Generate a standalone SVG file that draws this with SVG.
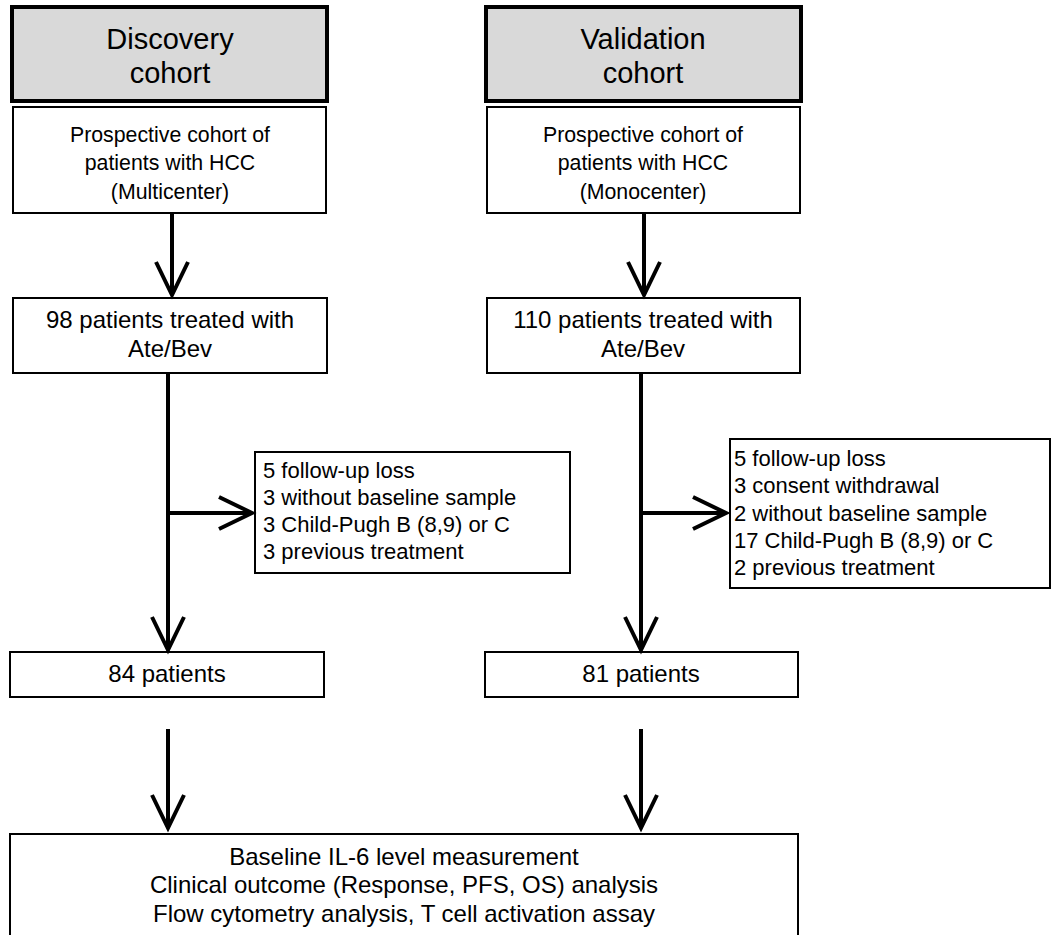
<svg xmlns="http://www.w3.org/2000/svg" width="1051" height="935" viewBox="0 0 1051 935">
<style>
.box{fill:#fff;stroke:#000;stroke-width:2}
.hdr{fill:#d9d9d9;stroke:#000;stroke-width:4}
.t{font-family:"Liberation Sans",Arial,sans-serif;fill:#000}
.c{text-anchor:middle}
.conn line{stroke:#000;stroke-width:4;fill:none}
</style>
<defs>
<marker id="arr" markerUnits="userSpaceOnUse" markerWidth="44" markerHeight="44" viewBox="-40 -22 44 44" refX="0" refY="0" orient="auto" overflow="visible">
<path d="M-33,-16 L0,0 L-33,16" fill="none" stroke="#000" stroke-width="4" stroke-linejoin="miter"/>
</marker>
</defs>
<rect width="1051" height="935" fill="#fff"/>
<g id="disc-header"><rect class="hdr" x="12" y="7" width="315" height="94"/>
<text class="t c" x="170" y="49" font-size="29">Discovery</text>
<text class="t c" x="170" y="83" font-size="29">cohort</text></g>
<g id="val-header"><rect class="hdr" x="486" y="7" width="315" height="94"/>
<text class="t c" x="643" y="49" font-size="29">Validation</text>
<text class="t c" x="643" y="83" font-size="29">cohort</text></g>
<g id="disc-prosp"><rect class="box" x="13" y="107" width="313" height="106"/>
<text class="t c" x="170" y="142" font-size="21.3">Prospective cohort of</text>
<text class="t c" x="170" y="170" font-size="21.3">patients with HCC</text>
<text class="t c" x="170" y="199" font-size="21.3">(Multicenter)</text></g>
<g id="val-prosp"><rect class="box" x="487" y="107" width="313" height="106"/>
<text class="t c" x="643" y="142" font-size="21.3">Prospective cohort of</text>
<text class="t c" x="643" y="170" font-size="21.3">patients with HCC</text>
<text class="t c" x="643" y="199" font-size="21.3">(Monocenter)</text></g>
<g id="disc-treated"><rect class="box" x="13" y="298" width="314" height="75"/>
<text class="t c" x="170" y="328" font-size="24">98 patients treated with</text>
<text class="t c" x="170" y="357" font-size="24">Ate/Bev</text></g>
<g id="val-treated"><rect class="box" x="487" y="298" width="313" height="75"/>
<text class="t c" x="643" y="328" font-size="24">110 patients treated with</text>
<text class="t c" x="643" y="357" font-size="24">Ate/Bev</text></g>
<g id="disc-excl"><rect class="box" x="255" y="452" width="315" height="121"/>
<text class="t" x="263" y="478" font-size="22">5 follow-up loss</text>
<text class="t" x="263" y="505" font-size="22">3 without baseline sample</text>
<text class="t" x="263" y="532" font-size="22">3 Child-Pugh B (8,9) or C</text>
<text class="t" x="263" y="559" font-size="22">3 previous treatment</text></g>
<g id="val-excl"><rect class="box" x="730" y="439" width="320" height="149"/>
<text class="t" x="734" y="466" font-size="22">5 follow-up loss</text>
<text class="t" x="734" y="493" font-size="22">3 consent withdrawal</text>
<text class="t" x="734" y="521" font-size="22">2 without baseline sample</text>
<text class="t" x="734" y="548" font-size="22">17 Child-Pugh B (8,9) or C</text>
<text class="t" x="734" y="575" font-size="22">2 previous treatment</text></g>
<g id="disc-final"><rect class="box" x="10" y="652" width="314" height="45"/>
<text class="t c" x="167" y="682" font-size="24">84 patients</text></g>
<g id="val-final"><rect class="box" x="485" y="652" width="313" height="45"/>
<text class="t c" x="641" y="682" font-size="24">81 patients</text></g>
<g id="analysis"><rect class="box" x="10" y="834" width="788" height="110"/>
<text class="t c" x="404" y="865" font-size="24">Baseline IL-6 level measurement</text>
<text class="t c" x="404" y="893" font-size="24">Clinical outcome (Response, PFS, OS) analysis</text>
<text class="t c" x="404" y="922" font-size="24">Flow cytometry analysis, T cell activation assay</text></g>
<g id="connectors" class="conn">
<line x1="172" y1="213" x2="172" y2="295" marker-end="url(#arr)"/>
<line x1="168" y1="373" x2="168" y2="650" marker-end="url(#arr)"/>
<line x1="166" y1="513" x2="252" y2="513" marker-end="url(#arr)"/>
<line x1="168" y1="729" x2="168" y2="828" marker-end="url(#arr)"/>
<line x1="644" y1="213" x2="644" y2="295" marker-end="url(#arr)"/>
<line x1="641" y1="373" x2="641" y2="650" marker-end="url(#arr)"/>
<line x1="639" y1="513" x2="726" y2="513" marker-end="url(#arr)"/>
<line x1="641" y1="729" x2="641" y2="828" marker-end="url(#arr)"/>
</g>
</svg>
